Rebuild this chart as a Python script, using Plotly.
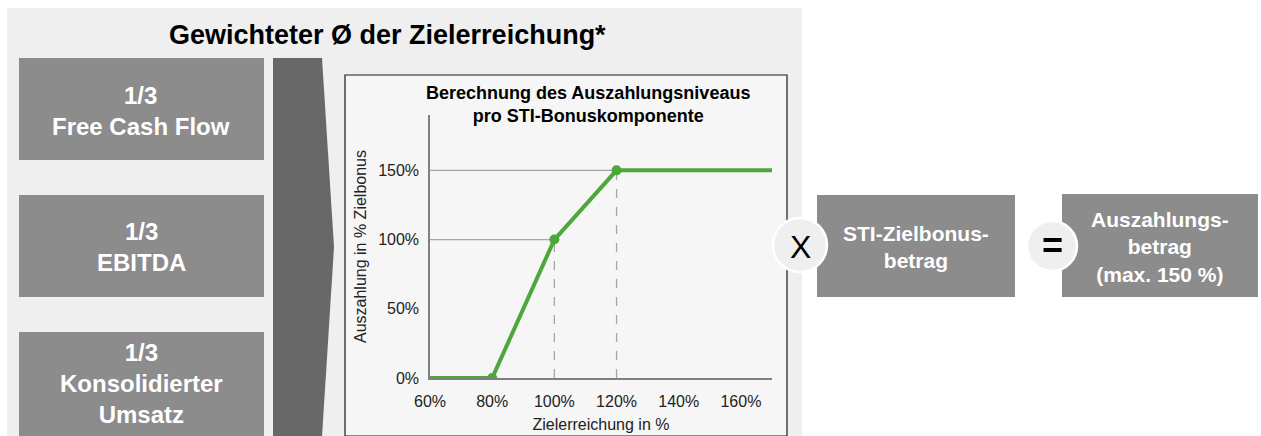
import plotly.graph_objects as go

W, H = 1261, 436

# ---- data ----
zielerreichung = [60, 80, 100, 120, 170]
auszahlung = [0, 0, 100, 150, 150]
marker_x = [80, 100, 120]
marker_y = [0, 100, 150]
ref_x = [100, 120]
ref_y = [100, 150]
x_ticks = [60, 80, 100, 120, 140, 160]
x_ticklabels = ["60%", "80%", "100%", "120%", "140%", "160%"]
y_ticks = [0, 50, 100, 150]
y_ticklabels = ["0%", "50%", "100%", "150%"]
components = ["1/3<br>Free Cash Flow", "1/3<br>EBITDA", "1/3<br>Konsolidierter<br>Umsatz"]

FONT = "Arial, 'Liberation Sans', sans-serif"
GREEN = "#4fa73c"
BOXGRAY = "#8c8c8c"


def px(x):
    return x / W


def py(y):
    return 1 - y / H


fig = go.Figure()

# reference lines
for kx, ky in zip(ref_x, ref_y):
    fig.add_trace(go.Scatter(x=[60, kx], y=[ky, ky], mode="lines",
                             line=dict(color="#a6a6a6", width=1.3), hoverinfo="skip", showlegend=False))
    fig.add_trace(go.Scatter(x=[kx, kx], y=[0, ky], mode="lines",
                             line=dict(color="#a6a6a6", width=1.3, dash="dash"), hoverinfo="skip", showlegend=False))

fig.add_trace(go.Scatter(x=zielerreichung, y=auszahlung, mode="lines",
                         line=dict(color=GREEN, width=4), showlegend=False))
fig.add_trace(go.Scatter(x=marker_x, y=marker_y, mode="markers",
                         marker=dict(color=GREEN, size=10), showlegend=False))

shapes = []
# background panel
shapes.append(dict(type="rect", xref="paper", yref="paper", x0=px(7), x1=px(802), y0=py(437), y1=py(8),
                   fillcolor="#efefef", line=dict(width=0), layer="below"))
# left component boxes
box_rows = [(58, 160), (195, 297), (332, 437)]
for (t, b) in box_rows:
    shapes.append(dict(type="rect", xref="paper", yref="paper", x0=px(19), x1=px(264), y0=py(b), y1=py(t),
                       fillcolor=BOXGRAY, line=dict(width=0), layer="below"))
# chevron
path = "M {} {} L {} {} L {} {} L {} {} L {} {} Z".format(
    px(273), py(58), px(322), py(58), px(334), py(247), px(322), py(437), px(273), py(437))
shapes.append(dict(type="path", xref="paper", yref="paper", path=path,
                   fillcolor="#686868", line=dict(width=0), layer="below"))
# chart box
shapes.append(dict(type="rect", xref="paper", yref="paper", x0=px(345), x1=px(787), y0=py(436), y1=py(75),
                   fillcolor="#f6f6f6", line=dict(color="#1a1a1a", width=1.2), layer="below"))
# right boxes
shapes.append(dict(type="rect", xref="paper", yref="paper", x0=px(817), x1=px(1015), y0=py(297), y1=py(195),
                   fillcolor=BOXGRAY, line=dict(width=0), layer="below"))
shapes.append(dict(type="rect", xref="paper", yref="paper", x0=px(1062), x1=px(1258), y0=py(297), y1=py(194),
                   fillcolor=BOXGRAY, line=dict(width=0), layer="below"))
# circles
for cx, cy, r in [(800, 245, 27), (1052, 246, 25)]:
    shapes.append(dict(type="circle", xref="paper", yref="paper", x0=px(cx - r), x1=px(cx + r),
                       y0=py(cy + r), y1=py(cy - r), fillcolor="#efefef",
                       line=dict(color="#ffffff", width=2.5), layer="above"))

annotations = []


def txt(x, y, text, size, color="#000000", bold=False, **kw):
    annotations.append(dict(x=px(x), y=py(y), xref="paper", yref="paper", text=f"<b>{text}</b>" if bold else text,
                            showarrow=False, font=dict(family=FONT, size=size, color=color),
                            xanchor="center", yanchor="middle", **kw))


txt(387, 35, "Gewichteter Ø der Zielerreichung*", 27, bold=True)
centers = [111, 247, 383]
for c, lab in zip(centers, components):
    txt(141, c, lab, 24, color="#ffffff", bold=True, align="center")
txt(588, 104, "Berechnung des Auszahlungsniveaus<br>pro STI-Bonuskomponente", 18, bold=True, align="center")
txt(916, 247, "STI-Zielbonus-<br>betrag", 21, color="#ffffff", bold=True, align="center")
txt(1160, 247, "Auszahlungs-<br>betrag<br>(max. 150 %)", 21, color="#ffffff", bold=True, align="center")
txt(800, 247, "X", 32)
txt(1052, 246, "=", 36, bold=True)

fig.update_layout(
    template="none",
    width=W, height=H, autosize=False,
    margin=dict(l=0, r=0, t=0, b=0, pad=0, autoexpand=False),
    paper_bgcolor="#ffffff", plot_bgcolor="rgba(0,0,0,0)",
    shapes=shapes, annotations=annotations,
    font=dict(family=FONT, size=15, color="#222222"),
    xaxis=dict(domain=[px(430), px(772)], range=[60, 170], tickmode="array", tickvals=x_ticks,
               ticktext=x_ticklabels, automargin=False, ticklabelstandoff=8,
               showgrid=False, zeroline=False, showline=True, linecolor="#808080", linewidth=1.5,
               ticks="", tickfont=dict(size=16), fixedrange=True,
               title=dict(text="Zielerreichung in %", font=dict(size=16), standoff=10)),
    yaxis=dict(domain=[py(378), py(115)], range=[0, 190], tickmode="array", tickvals=y_ticks,
               ticktext=y_ticklabels, automargin=False, ticklabelstandoff=6,
               showgrid=False, zeroline=False, showline=True, linecolor="#808080", linewidth=1.5,
               ticks="", tickfont=dict(size=16), fixedrange=True,
               title=dict(text="Auszahlung in % Zielbonus", font=dict(size=16), standoff=8)),
)

fig.write_html(
    "out.html",
    config={"displayModeBar": False},
    post_script="document.body.style.margin='0px';document.body.style.overflow='hidden';"
                "document.documentElement.style.overflow='hidden';",
)
